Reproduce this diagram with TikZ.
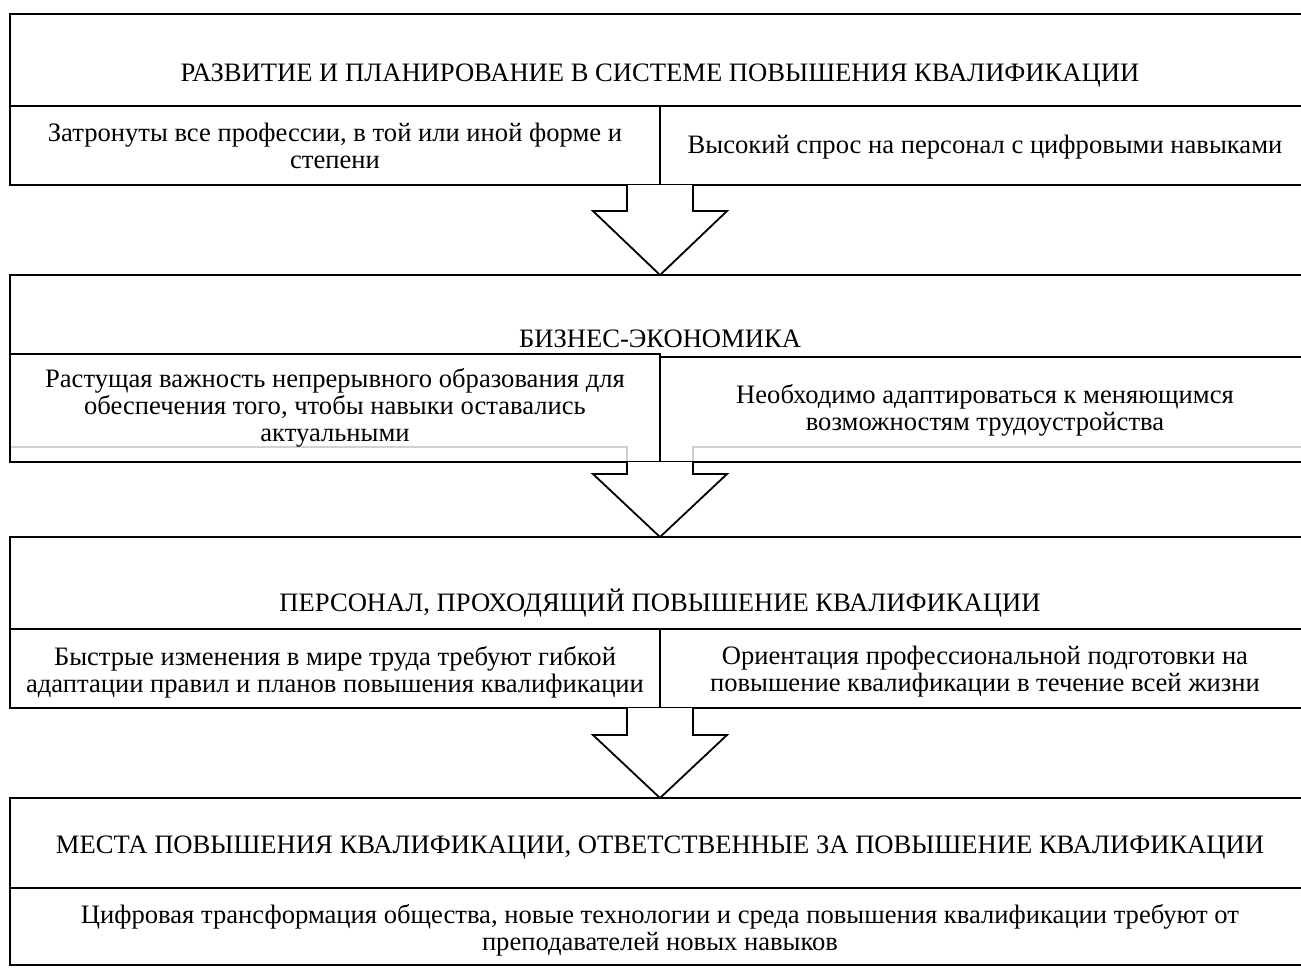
\documentclass[tikz,border=0pt]{standalone}
\usepackage{fontspec}
\setmainfont{Liberation Serif}
\usetikzlibrary{calc}
\begin{document}
\begin{tikzpicture}[x=1pt,y=-1pt,
  frame/.style={draw=black, line width=1.8pt, minimum width=#1, inner sep=0pt, outer sep=0pt},
  lbl/.style={align=center, inner sep=0pt, font=\fontsize{26.6}{27}\selectfont},
  blockarrow/.style={draw=black, line width=1.8pt, fill=white, line join=miter},
  faint/.style={draw=black!18, line width=1.8pt}]
\useasboundingbox (0,0) rectangle (1301,967);
% ---------- Block 1
\node[frame=1300pt, minimum height=171pt, anchor=north west] (b1) at (10,14) {};
\node[frame=650pt, minimum height=79pt, anchor=north west] (b1l) at (10,106) {};
\node[frame=650pt, minimum height=79pt, anchor=north west] (b1r) at (660,106) {};
\node[lbl] (t1) at (660,76) {РАЗВИТИЕ И ПЛАНИРОВАНИЕ В СИСТЕМЕ ПОВЫШЕНИЯ КВАЛИФИКАЦИИ};
\node[lbl] (s1l) at (335,146) {Затронуты все профессии, в той или иной форме и\\степени};
\node[lbl] (s1r) at (985,147) {Высокий спрос на персонал с цифровыми навыками};
% ---------- Block 2
\node[minimum width=1300pt, minimum height=172pt, inner sep=0pt, outer sep=0pt, anchor=north west] (b2) at (10,275) {};
\draw[faint] (b2.south west) -- ($(b2.south)+(-33,0)$) -- ($(b2.south)+(-33,15)$);
\draw[faint] ($(b2.south)+(33,15)$) -- ($(b2.south)+(33,0)$) -- (b2.south east);
\draw[black, line width=1.8pt] (b2.north east) -- (b2.north west) -- ($(b2.south west)+(0,15)$);
\node[frame=650pt, minimum height=108pt, anchor=north west] (b2l) at (10,354) {};
\node[frame=650pt, minimum height=105pt, anchor=north west] (b2r) at (660,357) {};
\node[lbl] (t2) at (660,339) {БИЗНЕС-ЭКОНОМИКА};
\node[lbl] (s2l) at (335,408) {Растущая важность непрерывного образования для\\обеспечения того, чтобы навыки оставались\\актуальными};
\node[lbl] (s2r) at (985,410) {Необходимо адаптироваться к меняющимся\\возможностям трудоустройства};
% ---------- Block 3
\node[frame=1300pt, minimum height=171pt, anchor=north west] (b3) at (10,537) {};
\node[frame=650pt, minimum height=79pt, anchor=north west] (b3l) at (10,629) {};
\node[frame=650pt, minimum height=79pt, anchor=north west] (b3r) at (660,629) {};
\node[lbl] (t3) at (660,603) {ПЕРСОНАЛ, ПРОХОДЯЩИЙ ПОВЫШЕНИЕ КВАЛИФИКАЦИИ};
\node[lbl] (s3l) at (335,672) {Быстрые изменения в мире труда требуют гибкой\\адаптации правил и планов повышения квалификации};
\node[lbl] (s3r) at (985,672) {Ориентация профессиональной подготовки на\\повышение квалификации в течение всей жизни};
% ---------- Block 4
\node[frame=1300pt, minimum height=167pt, anchor=north west] (b4) at (10,798) {};
\node[frame=1300pt, minimum height=77pt, anchor=north west] (b4s) at (10,888) {};
\node[lbl] (t4) at (660,848) {МЕСТА ПОВЫШЕНИЯ КВАЛИФИКАЦИИ, ОТВЕТСТВЕННЫЕ ЗА ПОВЫШЕНИЕ КВАЛИФИКАЦИИ};
\node[lbl] (s4) at (660,930) {Цифровая трансформация общества, новые технологии и среда повышения квалификации требуют от\\преподавателей новых навыков};
% ---------- Block arrows
\draw[blockarrow] ($(b1.south)+(-33,0)$) -- ($(b1.south)+(-33,26)$) -- ($(b1.south)+(-67,26)$) -- (b2.north) -- ($(b1.south)+(67,26)$) -- ($(b1.south)+(33,26)$) -- ($(b1.south)+(33,0)$);
\draw[blockarrow] ($(b2l.south east)+(-33,0)$) -- ($(b2l.south east)+(-33,12)$) -- ($(b2l.south east)+(-67,12)$) -- (b3.north) -- ($(b2l.south east)+(67,12)$) -- ($(b2l.south east)+(33,12)$) -- ($(b2l.south east)+(33,0)$);
\draw[blockarrow] ($(b3.south)+(-33,0)$) -- ($(b3.south)+(-33,27)$) -- ($(b3.south)+(-67,27)$) -- (b4.north) -- ($(b3.south)+(67,27)$) -- ($(b3.south)+(33,27)$) -- ($(b3.south)+(33,0)$);
\end{tikzpicture}
\end{document}
